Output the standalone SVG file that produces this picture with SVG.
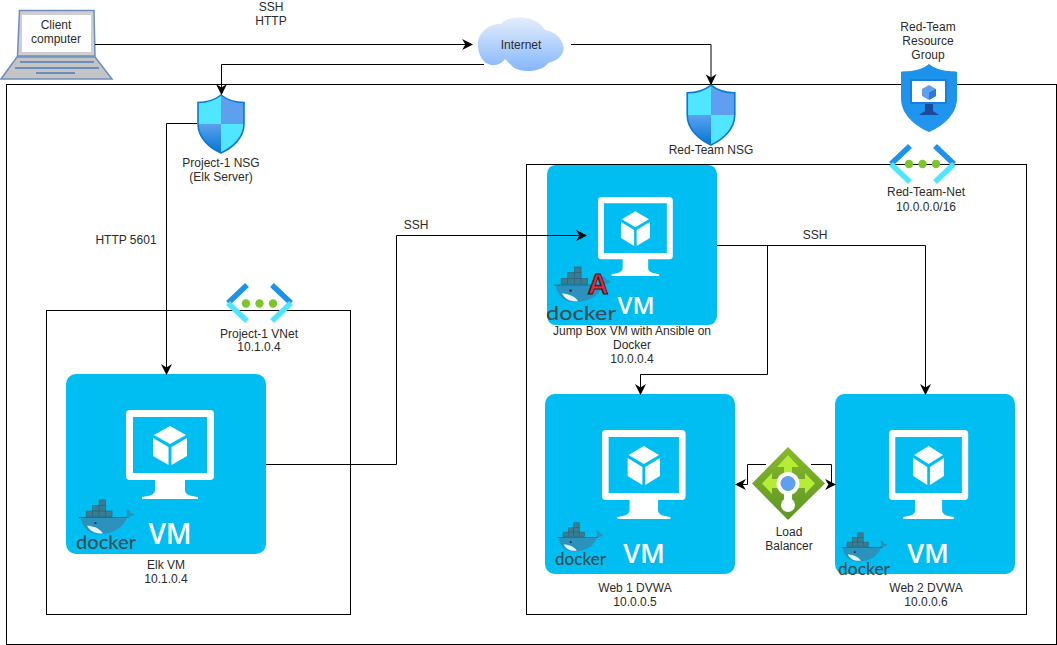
<svg xmlns="http://www.w3.org/2000/svg" xmlns:xlink="http://www.w3.org/1999/xlink" width="1057" height="645" viewBox="0 0 1057 645">
<style>
text{font-family:"Liberation Sans",Arial,sans-serif;font-size:12px;fill:#2b2b2b;text-anchor:middle}
.box{fill:none;stroke:#000;stroke-width:1}
.wire{fill:none;stroke:#000;stroke-width:1;marker-end:url(#arr)}
.vmt{font-family:"Open Sans","Liberation Sans",sans-serif;font-weight:600;fill:#fff}
.dk{font-family:Lato,"Liberation Sans",sans-serif;font-weight:500;fill:#384d54;text-anchor:start}
</style>
<defs>
<marker id="arr" viewBox="0 0 10 10" refX="9" refY="5" markerWidth="11" markerHeight="11" markerUnits="userSpaceOnUse" orient="auto"><path d="M0 0L10 5L0 10L3 5Z" fill="#000"/></marker>
<linearGradient id="cloudG" x1="0" y1="0" x2="0" y2="1"><stop offset="0" stop-color="#e4eefc"/><stop offset="1" stop-color="#85b6fb"/></linearGradient>
<linearGradient id="blG" x1="0" y1="0" x2="0" y2="1"><stop offset="0" stop-color="#5ea0ef"/><stop offset="1" stop-color="#0078d4"/></linearGradient>
<linearGradient id="rgG" x1="0" y1="0" x2="0" y2="1"><stop offset="0" stop-color="#1b93eb"/><stop offset="1" stop-color="#2195ef"/></linearGradient>
<linearGradient id="lbG" x1="0" y1="0" x2="0" y2="1"><stop offset="0" stop-color="#86b82a"/><stop offset="1" stop-color="#5e9624"/></linearGradient>
<symbol id="vm" viewBox="0 0 200 180" preserveAspectRatio="none">
<rect width="200" height="180" rx="10" fill="#00bef2"/>
<path fill-rule="evenodd" fill="#fff" d="M64 36H144a4 4 0 0 1 4 4V102a4 4 0 0 1-4 4H119V116c0 4 4 6 13 7v2H76v-2c9-1 13-3 13-7V106H64a4 4 0 0 1-4-4V40a4 4 0 0 1 4-4ZM67 43V99H141V43Z"/>
<path fill="#fff" d="M104 52L120 61L104 70L88 61Z"/>
<path fill="#fff" d="M87 64L102.500 73V91L87 82Z"/>
<path fill="#fff" d="M121 64L105.500 73V91L121 82Z"/>
</symbol>
<symbol id="nsg" viewBox="0 0 50 60">
<path fill="#50e6ff" d="M25 1C20 5 12 8.500 2 8.500V30H25Z"/>
<path fill="#5ea0ef" d="M25 1C30 5 38 8.500 48 8.500V30H25Z"/>
<path fill="url(#blG)" d="M2 30C2 44 14 54 25 59V30Z"/>
<path fill="#50e6ff" d="M48 30C48 44 36 54 25 59V30Z"/>
<path fill="none" stroke="#0a78d4" stroke-width="1.600" d="M25 1C30 5 38 8.500 48 8.500V30C48 44 36 54 25 59C14 54 2 44 2 30V8.500C12 8.500 20 5 25 1Z"/>
</symbol>
<symbol id="whale" viewBox="0 0 60 40">
<g fill="#3a7d90" stroke="#2a5f73" stroke-width=".6">
<rect x="22" y="1" width="7" height="6"/>
<rect x="15" y="7" width="7" height="6"/><rect x="22" y="7" width="7" height="6"/>
<rect x="8" y="13" width="7" height="6"/><rect x="15" y="13" width="7" height="6"/><rect x="22" y="13" width="7" height="6"/><rect x="29" y="13" width="7" height="6"/>
</g>
<path fill="#2a92bd" d="M2 20H50C52 18 53 16 51 11C54 11 56 13 56 15C58 15 60 15 60 17C57 19 54 19 52 20C48 32 36 38 22 38C10 38 4 30 2 20Z"/>
<path fill="#e4f5f7" d="M9 29C14 29 22 31 26 37C18 38 12 35 9 29Z"/>
<circle cx="18" cy="26" r="1.200" fill="#123"/>
<path d="M0 20H54" stroke="#1a5a75" stroke-width=".8" fill="none"/>
</symbol>
</defs>

<g id="boundaries">
<rect class="box" x="6.500" y="84.500" width="1050" height="560"/>
<rect class="box" x="46.500" y="310.500" width="304" height="304"/>
<rect class="box" x="526.500" y="164.500" width="500" height="450"/>
</g>

<g id="client">
<path d="M19.500 10.500H94L95 56H17.500Z" fill="#cfcfcf" stroke="#6c8ebf" stroke-width="1.500"/>
<rect x="22" y="15" width="69" height="37" fill="#fff"/>
<path d="M17 57H95L112 79H1Z" fill="#c4c4c4" stroke="#6c8ebf" stroke-width="1.500"/>
<path d="M20 62H94M15 68H99M36 73H75" stroke="#6c8ebf" stroke-width="2" fill="none"/>
<text x="56" y="29">Client</text>
<text x="56" y="43">computer</text>
</g>

<g id="internet">
<path fill="url(#cloudG)" d="M478 47C476 35 488 23 501 24C508 15 535 13 545 30C558 32 566 44 563 52C561 58 555 61 548 63C543 72 520 74 512 66L505 59C498 69 480 68 478 47Z"/>
<text x="521" y="49">Internet</text>
</g>

<g id="project-nsg">
<use xlink:href="#nsg" href="#nsg" x="196" y="94" width="50" height="60"/>
<text x="221" y="167">Project-1 NSG</text>
<text x="221" y="181">(Elk Server)</text>
</g>

<g id="redteam-nsg">
<use xlink:href="#nsg" href="#nsg" x="685" y="84" width="52" height="62"/>
<text x="711" y="154">Red-Team NSG</text>
</g>

<g id="resource-group">
<path fill="url(#rgG)" stroke="#1b93eb" d="M929 64.500C934 69 943 72 956.500 72V98C956.500 115 942 126 929 131.500C916 126 901.500 115 901.500 98V72C915 72 924 69 929 64.500Z"/>
<rect x="910" y="79" width="37" height="25" fill="#1a7fd8"/>
<rect x="912" y="81" width="33" height="21" fill="#fff"/>
<path d="M925 104H933V111L939 115H919L925 111Z" fill="#1b4a9a"/>
<path d="M929 85L936 89V96L929 100L922 96V89Z" fill="#5ea0ef"/>
<path d="M929 92.500L936 89V96L929 100Z" fill="#2a78d8"/>
<text x="928" y="31">Red-Team</text>
<text x="928" y="45">Resource</text>
<text x="928" y="59">Group</text>
</g>

<g id="redteam-net">
<path d="M910 146L891 164" stroke="#1b93eb" stroke-width="5.500" fill="none"/>
<path d="M891 164L910 182" stroke="#50e6ff" stroke-width="5.500" fill="none"/>
<path d="M935 146L954 164" stroke="#1b93eb" stroke-width="5.500" fill="none"/>
<path d="M954 164L935 182" stroke="#50e6ff" stroke-width="5.500" fill="none"/>
<circle cx="909" cy="164" r="4.200" fill="#7cc52a"/>
<circle cx="922.500" cy="164" r="4.200" fill="#7cc52a"/>
<circle cx="936" cy="164" r="4.200" fill="#7cc52a"/>
<text x="926" y="196">Red-Team-Net</text>
<text x="926" y="211">10.0.0.0/16</text>
</g>

<g id="project-vnet">
<path d="M247 285L228 303" stroke="#1b93eb" stroke-width="5.500" fill="none"/>
<path d="M228 303L247 321" stroke="#50e6ff" stroke-width="5.500" fill="none"/>
<path d="M272 285L291 303" stroke="#1b93eb" stroke-width="5.500" fill="none"/>
<path d="M291 303L272 321" stroke="#50e6ff" stroke-width="5.500" fill="none"/>
<circle cx="246" cy="303.500" r="4.200" fill="#7cc52a"/>
<circle cx="259.500" cy="303.500" r="4.200" fill="#7cc52a"/>
<circle cx="273" cy="303.500" r="4.200" fill="#7cc52a"/>
<text x="259" y="338">Project-1 VNet</text>
<text x="259" y="351">10.1.0.4</text>
</g>

<g id="jump-box">
<use xlink:href="#vm" href="#vm" x="547" y="165" width="170" height="160"/>
<use xlink:href="#whale" href="#whale" x="549" y="266" width="66" height="38"/>
<text class="dk" x="546" y="320" textLength="70" lengthAdjust="spacingAndGlyphs" style="font-size:20px">docker</text>
<text x="598" y="294" style="font-size:29px;font-weight:bold;fill:#e9283c;stroke:#222;stroke-width:1.100px">A</text>
<text class="vmt" x="636" y="314" style="font-size:24px">VM</text>
<text x="632" y="335">Jump Box VM with Ansible on</text>
<text x="632" y="349">Docker</text>
<text x="632" y="363">10.0.0.4</text>
</g>

<g id="elk-vm">
<use xlink:href="#vm" href="#vm" x="66" y="374" width="200" height="180"/>
<use xlink:href="#whale" href="#whale" x="77" y="499" width="59" height="37"/>
<text class="dk" x="76" y="549" textLength="60" lengthAdjust="spacingAndGlyphs" style="font-size:20px">docker</text>
<text class="vmt" x="170" y="544" style="font-size:28px">VM</text>
<text x="166" y="569">Elk VM</text>
<text x="166" y="583">10.1.0.4</text>
</g>

<g id="web1">
<use xlink:href="#vm" href="#vm" x="545" y="394" width="190" height="180"/>
<use xlink:href="#whale" href="#whale" x="555" y="522" width="50" height="31"/>
<text class="dk" x="555" y="565" textLength="51" lengthAdjust="spacingAndGlyphs" style="font-size:17px">docker</text>
<text class="vmt" x="644" y="563" style="font-size:27px">VM</text>
<text x="635" y="592">Web 1 DVWA</text>
<text x="635" y="606">10.0.0.5</text>
</g>

<g id="web2">
<use xlink:href="#vm" href="#vm" x="835" y="394" width="180" height="180"/>
<use xlink:href="#whale" href="#whale" x="839" y="532" width="50" height="31"/>
<text class="dk" x="838" y="575" textLength="52" lengthAdjust="spacingAndGlyphs" style="font-size:17px">docker</text>
<text class="vmt" x="928" y="563" style="font-size:27px">VM</text>
<text x="926" y="592">Web 2 DVWA</text>
<text x="926" y="606">10.0.0.6</text>
</g>

<g id="load-balancer">
<path d="M788 447L825 483.500L788 520L752 483.500Z" fill="url(#lbG)"/>
<path fill="#b4ec36" d="M788 455L799 467H792V475H784V467H777ZM762 483.500L772 473V479H782V488H772V494ZM815 483.500L805 473V479H795V488H805V494Z"/>
<rect x="784" y="490" width="8" height="14" fill="#fff"/>
<circle cx="788" cy="505" r="7" fill="#fff"/>
<circle cx="788" cy="483.500" r="11.500" fill="#fff"/>
<circle cx="788" cy="483.500" r="7.500" fill="#5ea0ef"/>
<text x="789" y="536">Load</text>
<text x="789" y="550">Balancer</text>
</g>

<g id="connectors">
<path class="wire" d="M95 44.500H472"/>
<path class="wire" d="M484 64.500H221.500V94"/>
<path class="wire" d="M571 44.500H711V84"/>
<path class="wire" d="M197 123.500H166.500V374"/>
<path class="wire" d="M266 464.500H396.500V235.500H586"/>
<path class="wire" d="M717 245.500H925.500V394"/>
<path class="wire" d="M767.500 245.500V374.500H640.500V394"/>
<path class="wire" d="M766 464.500H747.500V484.500H736"/>
<path class="wire" d="M811 464.500H831.500V484.500H835"/>
<text x="271" y="11">SSH</text>
<text x="271" y="25">HTTP</text>
<text x="126" y="244">HTTP 5601</text>
<text x="416" y="229">SSH</text>
<text x="815" y="239">SSH</text>
</g>
</svg>
